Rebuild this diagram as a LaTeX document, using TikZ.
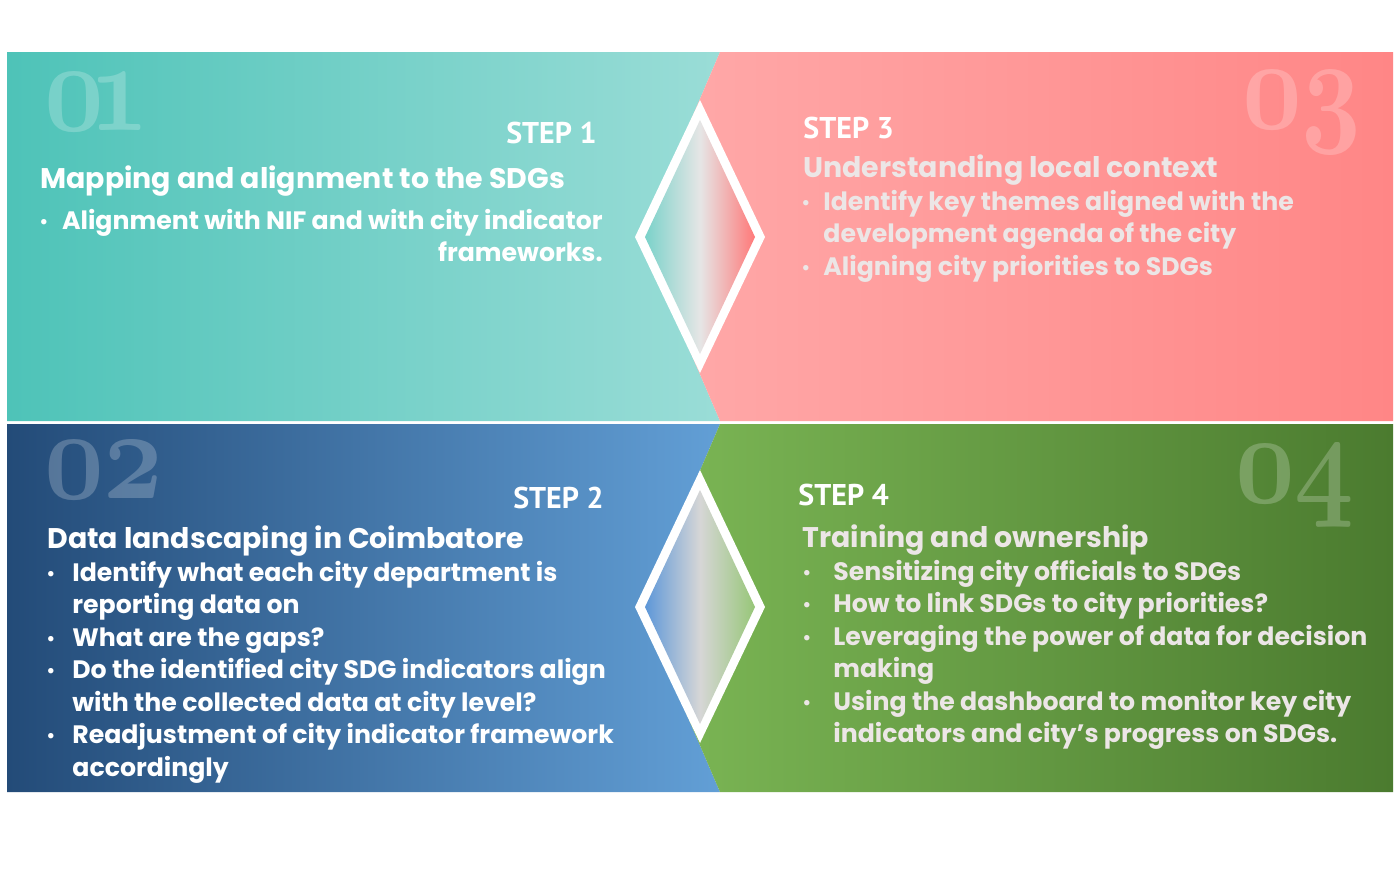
\documentclass[tikz,border=0pt]{standalone}
\usepackage{fontspec}
\setmainfont{Poppins}
\newfontfamily\stepfont{PT Sans}
\definecolor{tealA}{HTML}{4EC3B8}
\definecolor{tealB}{HTML}{9ADDD7}
\definecolor{pinkA}{HTML}{FFAAAA}
\definecolor{pinkB}{HTML}{FF8686}
\definecolor{blueA}{HTML}{234B78}
\definecolor{blueB}{HTML}{629FD6}
\definecolor{greenA}{HTML}{7DB856}
\definecolor{greenB}{HTML}{4B7B2F}
\definecolor{softgray}{HTML}{ECE6E6}

\begin{document}
\begin{tikzpicture}[x=0.5pt,y=-0.5pt,
        steplbl/.style={anchor=base west, inner sep=0pt, text=white,
                        font=\stepfont\bfseries\fontsize{15}{17}\selectfont},
        ttl/.style={anchor=base west, inner sep=0pt, text=white,
                    font=\bfseries\fontsize{14.2}{17}\selectfont},
        itm/.style={anchor=base west, inner sep=0pt, text=white,
                    font=\bfseries\fontsize{12.6}{15}\selectfont},
        dot/.style={itm, font=\fontsize{11}{14}\selectfont},
        bignum/.style={anchor=base west, inner sep=0pt, text=white, text opacity=0.22,
                       xscale=5.2, yscale=6.4, transform shape, font=\usefont{OML}{cmm}{b}{it}}
    ]
    \useasboundingbox (0,0) rectangle (1400,880);
    \fill[white] (0,0) rectangle (1400,880);

    % panels
    \shade[left color=tealA, right color=tealB]
        (7,52) -- (720,52) -- (641,237) -- (720,421) -- (7,421) -- cycle;
    \shade[left color=pinkA, right color=pinkB]
        (720,52) -- (1393,52) -- (1393,421) -- (720,421) -- (641,237) -- cycle;
    \shade[left color=blueA, right color=blueB]
        (7,424) -- (720,424) -- (641,608) -- (720,792) -- (7,792) -- cycle;
    \shade[left color=greenA, right color=greenB]
        (720,424) -- (1393,424) -- (1393,792) -- (720,792) -- (641,608) -- cycle;

    % diamonds
    \fill[white] (700,100) -- (765,237) -- (700,373) -- (635,237) -- cycle;
    \shade[left color=tealA!75, right color=pinkB!90!red, middle color=black!10]
        (700,120) -- (755,237) -- (700,354) -- (645,237) -- cycle;
    \fill[white] (700,470) -- (765,607) -- (700,743) -- (635,607) -- cycle;
    \shade[left color=blueB!95!blue, right color=greenA!80, middle color=black!16]
        (700,490) -- (755,607) -- (700,724) -- (645,607) -- cycle;

    % big numbers
    \node[bignum] (n1) at (42,130) {0\kern-0.12em 1};
    \node[bignum] (n2) at (42,498) {02};
    \node[bignum] (n3) at (1240,128) {03};
    \node[bignum] (n4) at (1233,502) {04};

    % step 1
    \node[steplbl, anchor=base east] (s1) at (597,143) {STEP 1};
    \node[ttl] (t1) at (40,188) {Mapping and alignment to the SDGs};
    \node[dot] (d1) at (39,229) {\textbullet};
    \node[itm, anchor=base east] (b1a) at (603,229) {Alignment with NIF and with city indicator};
    \node[itm, anchor=base east] (b1b) at (603,261) {frameworks.};

    % step 2
    \node[steplbl, anchor=base east] (s2) at (604,508) {STEP 2};
    \node[ttl] (t2) at (47,548) {Data landscaping in Coimbatore};
    \foreach \txt [count=\i from 0] in {Identify what each city department is,
            reporting data on, What are the gaps?,
            Do the identified city SDG indicators align,
            with the collected data at city level?,
            Readjustment of city indicator framework, accordingly}
        \node[itm] (b2-\i) at (72,{581+32.5*\i}) {\txt};
    \foreach \i in {0,2,3,5}
        \node[dot] (d2-\i) at (46,{581+32.5*\i}) {\textbullet};

    % step 3
    \node[steplbl] (s3) at (803,138) {STEP 3};
    \node[ttl, text=softgray] (t3) at (803,177) {Understanding local context};
    \foreach \txt [count=\i from 0] in {Identify key themes aligned with the,
            development agenda of the city, Aligning city priorities to SDGs}
        \node[itm, text=softgray] (b3-\i) at (823,{210+32.5*\i}) {\txt};
    \foreach \i in {0,2}
        \node[dot, text=softgray] (d3-\i) at (801,{210+32.5*\i}) {\textbullet};

    % step 4
    \node[steplbl] (s4) at (798,505) {STEP 4};
    \node[ttl, text=softgray] (t4) at (802,547) {Training and ownership};
    \foreach \txt [count=\i from 0] in {Sensitizing city officials to SDGs,
            How to link SDGs to city priorities?,
            Leveraging the power of data for decision, making,
            Using the dashboard to monitor key city,
            indicators and city’s progress on SDGs.}
        \node[itm, text=softgray] (b4-\i) at (833,{580+32.5*\i}) {\txt};
    \foreach \i in {0,1,2,4}
        \node[dot, text=softgray] (d4-\i) at (802,{580+32.5*\i}) {\textbullet};
\end{tikzpicture}
\end{document}
